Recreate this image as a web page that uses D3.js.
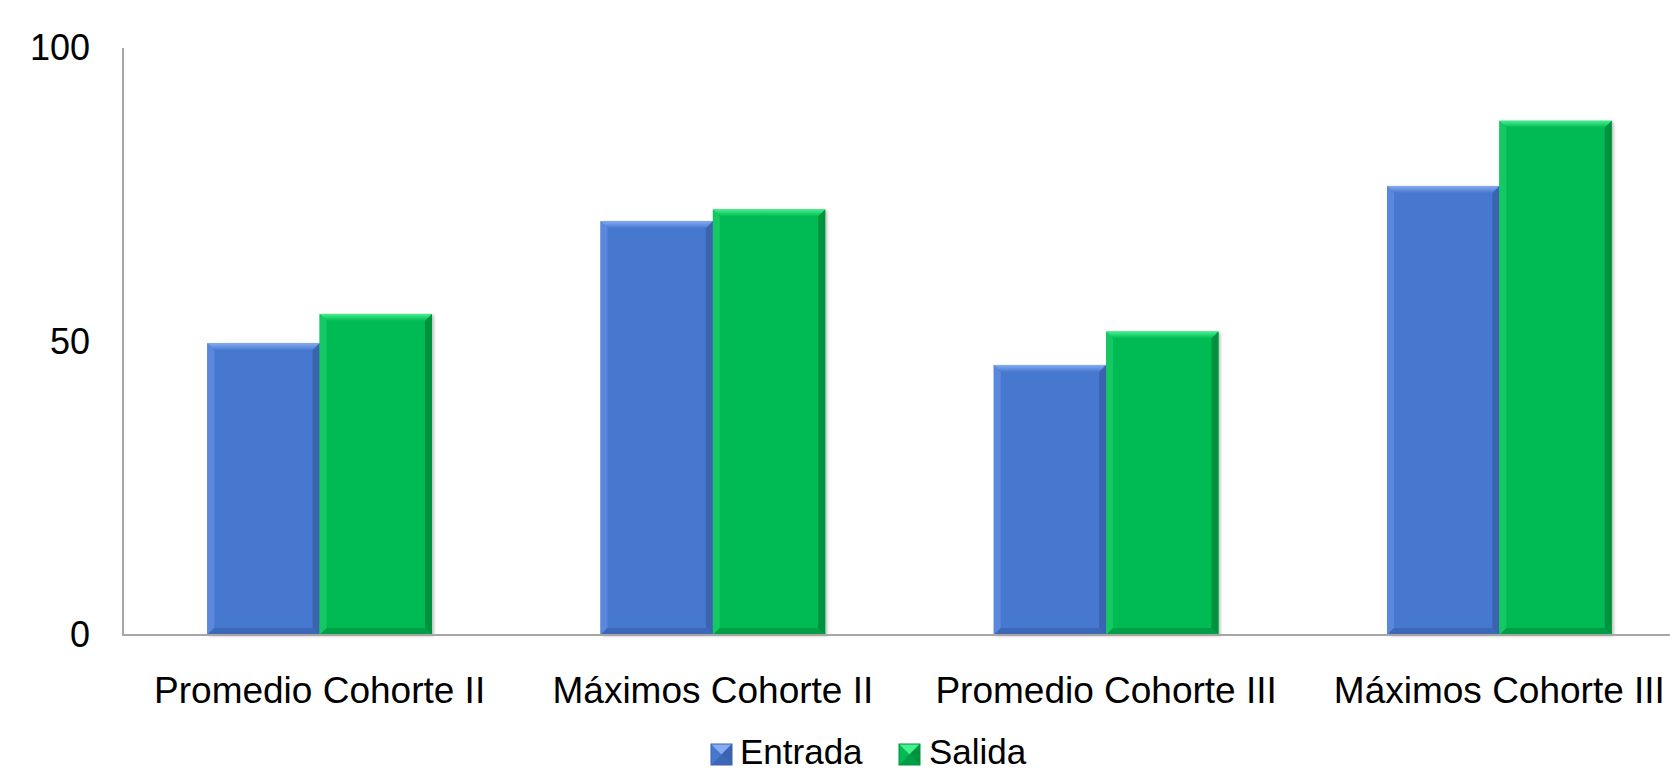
<!DOCTYPE html>
<html>
<head>
<meta charset="utf-8">
<script src="https://cdn.jsdelivr.net/npm/d3@7"></script>
<style>
  html, body { margin: 0; padding: 0; background: #fff; }
  svg { display: block; }
</style>
</head>
<body>
<svg id="chart" width="1670" height="772"></svg>
<script>
const categories = ["Promedio Cohorte II", "Máximos Cohorte II", "Promedio Cohorte III", "Máximos Cohorte III"];
const seriesNames = ["Entrada", "Salida"];
const entrada = [49.7, 70.5, 46.0, 76.5];
const salida = [54.7, 72.5, 51.7, 87.6];
const yTicks = [0, 50, 100];

const colors = {
  Entrada: { main: "#4778CF", top: "#86ACF2", left: "#5a88dc", right: "#3A63B0", bottom: "#3d68b8" },
  Salida:  { main: "#00BA52", top: "#45F08F", left: "#14c862", right: "#00923F", bottom: "#009e45" }
};

const svg = d3.select("#chart");
const W = 1670, H = 772;
const plotLeft = 123, plotRight = 1696, plotTop = 48, plotBottom = 635;

const x = d3.scaleBand().domain(categories).range([plotLeft, plotRight])
  .paddingInner(1.5 / 3.5).paddingOuter(0.75 / 3.5);
const xs = d3.scaleBand().domain(seriesNames).range([0, x.bandwidth()]);
const y = d3.scaleLinear().domain([0, 100]).range([plotBottom, plotTop]);

const defs = svg.append("defs");
const f = defs.append("filter").attr("id", "shadow").attr("x", "-10%").attr("y", "-10%").attr("width", "130%").attr("height", "130%");
f.append("feDropShadow").attr("dx", 2).attr("dy", 1).attr("stdDeviation", 1.5).attr("flood-color", "#000").attr("flood-opacity", 0.25);

seriesNames.forEach(s => {
  const c = colors[s];
  const g = defs.append("linearGradient").attr("id", "top-" + s).attr("x1", 0).attr("y1", 0).attr("x2", 0).attr("y2", 1);
  g.append("stop").attr("offset", "0%").attr("stop-color", c.top);
  g.append("stop").attr("offset", "100%").attr("stop-color", c.main);
});

// axes
const yAxis = svg.append("g").attr("transform", `translate(${plotLeft},0)`)
  .call(d3.axisLeft(y).tickValues(yTicks).tickSize(0).tickPadding(33).tickFormat(d3.format("d")));
yAxis.select(".domain").remove();
yAxis.selectAll("text").attr("font-family", "Liberation Sans, Arial, sans-serif").attr("font-size", 36).attr("fill", "#000");

const data = categories.map((c, i) => ({ cat: c, values: [{ s: "Entrada", v: entrada[i] }, { s: "Salida", v: salida[i] }] }));

const bars = svg.append("g");
data.forEach(d => {
  d.values.forEach(e => {
    const bx = x(d.cat) + xs(e.s);
    const bw = xs.bandwidth();
    const by = y(e.v);
    const bh = plotBottom - by;
    const c = colors[e.s];
    const b = 7;
    const g = bars.append("g");
    g.append("rect").attr("x", bx).attr("y", by).attr("width", bw).attr("height", bh)
      .attr("fill", c.main).attr("filter", "url(#shadow)");
    // bevel edges
    g.append("polygon").attr("points", [[bx, by], [bx + bw, by], [bx + bw - b, by + b], [bx + b, by + b]].join(" "))
      .attr("fill", "url(#top-" + e.s + ")");
    g.append("polygon").attr("points", [[bx + bw, by], [bx + bw, by + bh], [bx + bw - b, by + bh - b], [bx + bw - b, by + b]].join(" "))
      .attr("fill", c.right);
    g.append("polygon").attr("points", [[bx, by], [bx + b, by + b], [bx + b, by + bh - b], [bx, by + bh]].join(" "))
      .attr("fill", c.left);
    g.append("polygon").attr("points", [[bx, by + bh], [bx + b, by + bh - b], [bx + bw - b, by + bh - b], [bx + bw, by + bh]].join(" "))
      .attr("fill", c.bottom);
  });
});

// axis lines
svg.append("line").attr("x1", plotLeft).attr("x2", plotLeft).attr("y1", plotTop).attr("y2", plotBottom + 1)
  .attr("stroke", "#A6A6A6").attr("stroke-width", 2);
svg.append("line").attr("x1", plotLeft - 1).attr("x2", W).attr("y1", plotBottom).attr("y2", plotBottom)
  .attr("stroke", "#A6A6A6").attr("stroke-width", 2);

// category labels
svg.append("g").selectAll("text").data(categories).join("text")
  .attr("x", d => x(d) + x.bandwidth() / 2)
  .attr("y", 703)
  .attr("text-anchor", "middle")
  .attr("font-family", "Liberation Sans, Arial, sans-serif")
  .attr("font-size", 37)
  .attr("fill", "#000")
  .text(d => d);

// legend
const legend = svg.append("g");
const legendItems = [{ s: "Entrada", x: 711, tx: 740 }, { s: "Salida", x: 899, tx: 929 }];
legendItems.forEach(it => {
  const c = colors[it.s];
  const lx = it.x, ly = 744, ls = 21;
  legend.append("rect").attr("x", lx).attr("y", ly).attr("width", ls).attr("height", ls).attr("fill", c.main);
  legend.append("polygon").attr("points", [[lx, ly], [lx + ls, ly], [lx + ls / 2, ly + ls / 2]].join(" ")).attr("fill", c.top);
  legend.append("polygon").attr("points", [[lx + ls, ly], [lx + ls, ly + ls], [lx + ls / 2, ly + ls / 2]].join(" ")).attr("fill", c.right);
  legend.append("polygon").attr("points", [[lx, ly + ls], [lx + ls, ly + ls], [lx + ls / 2, ly + ls / 2]].join(" ")).attr("fill", c.bottom);
  legend.append("rect").attr("x", lx).attr("y", ly).attr("width", ls).attr("height", ls).attr("fill", "none").attr("stroke", c.right).attr("stroke-width", 1);
  legend.append("text").attr("x", it.tx).attr("y", 764)
    .attr("font-family", "Liberation Sans, Arial, sans-serif").attr("font-size", 35).attr("fill", "#000")
    .text(it.s);
});
</script>
</body>
</html>
